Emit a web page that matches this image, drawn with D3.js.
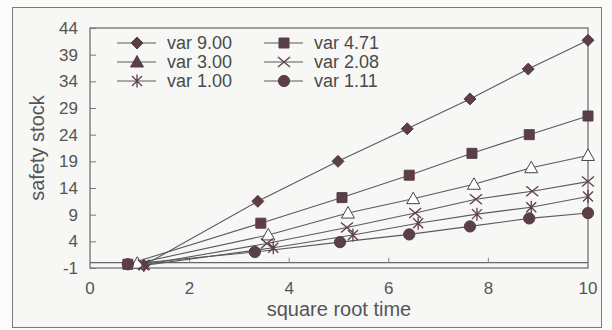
<!DOCTYPE html>
<html>
<head>
<meta charset="utf-8">
<script src="https://cdn.jsdelivr.net/npm/d3@7"></script>
<style>
  body { margin: 0; background: #fbfbfa; }
  svg { display: block; font-family: "Liberation Sans", Arial, sans-serif; }
</style>
</head>
<body>
<div class="chart_wrapper"></div>
<script>
// series: [square root time, safety stock]
const var900 = [[1.08, -0.5], [3.37, 11.5], [4.98, 19.0], [6.37, 25.1], [7.63, 30.7], [8.80, 36.3], [10.0, 41.7]]
const var471 = [[0.76, -0.3], [3.43, 7.4], [5.06, 12.2], [6.41, 16.4], [7.67, 20.5], [8.82, 24.0], [10.0, 27.5]]
const var300 = [[0.95, -0.1], [3.58, 5.2], [5.18, 9.3], [6.49, 12.0], [7.71, 14.7], [8.86, 17.8], [10.0, 20.1]]
const var208 = [[1.08, -0.4], [3.55, 3.6], [5.16, 6.6], [6.53, 9.3], [7.75, 11.9], [8.88, 13.4], [10.0, 15.2]]
const var100 = [[1.08, -0.5], [3.68, 2.8], [5.28, 5.2], [6.59, 7.4], [7.77, 9.1], [8.86, 10.4], [10.0, 12.4]]
const var111 = [[0.76, -0.3], [3.31, 2.0], [5.02, 3.85], [6.41, 5.3], [7.63, 6.8], [8.82, 8.3], [10.0, 9.3]]

const seriesNames = ['var 9.00', 'var 4.71', 'var 3.00', 'var 2.08', 'var 1.00', 'var 1.11']
const seriesData = [var900, var471, var300, var208, var100, var111]
const seriesMarks = ['diamond', 'square', 'triangle', 'x', 'star', 'circle']

const yTicks = [-1, 4, 9, 14, 19, 24, 29, 34, 39, 44]
const xTicks = [0, 2, 4, 6, 8, 10]

const width = 612
const height = 330
const margin = { top: 28, right: 24, bottom: 62, left: 90 }

const ink = '#5b3f47'
const lineCol = '#5a5a5a'
const textCol = '#555'

const svg = d3.select('.chart_wrapper')
    .append('svg')
    .attr('width', width)
    .attr('height', height)

// outer frame
svg.append('rect')
    .attr('x', 12.5).attr('y', 7.5)
    .attr('width', 589).attr('height', 320)
    .attr('fill', '#f7f7f5')
    .attr('stroke', '#7a7a7a')

const x = d3.scaleLinear().domain([0, 10]).range([margin.left, width - margin.right])
const y = d3.scaleLinear().domain([-1, 44]).range([height - margin.bottom, margin.top])

// plot box
svg.append('rect')
    .attr('x', x(0)).attr('y', y(44))
    .attr('width', x(10) - x(0)).attr('height', y(-1) - y(44))
    .attr('fill', 'none')
    .attr('stroke', '#666')
    .attr('stroke-width', 1.2)

// y axis, ticks pointing inward
const yAxis = svg.append('g')
    .attr('transform', `translate(${x(0)},0)`)
    .call(d3.axisRight(y).tickValues(yTicks).tickSize(6).tickFormat(d => d))
yAxis.select('.domain').remove()
yAxis.selectAll('line').attr('stroke', '#777')
yAxis.selectAll('text')
    .attr('x', -12)
    .attr('text-anchor', 'end')
    .attr('fill', textCol)
    .style('font-size', '17px')

// zero line with the x ticks on it
svg.append('line')
    .attr('x1', x(0)).attr('x2', x(10))
    .attr('y1', y(0)).attr('y2', y(0))
    .attr('stroke', '#666')
    .attr('stroke-width', 1.1)
svg.append('g')
    .selectAll('line')
    .data(xTicks.slice(1, -1))
    .join('line')
    .attr('x1', d => x(d)).attr('x2', d => x(d))
    .attr('y1', y(0)).attr('y2', y(0) - 5)
    .attr('stroke', '#888')

// x tick labels below the box
svg.append('g')
    .selectAll('text')
    .data(xTicks)
    .join('text')
    .attr('x', d => x(d))
    .attr('y', y(-1) + 26)
    .attr('text-anchor', 'middle')
    .attr('fill', textCol)
    .style('font-size', '17px')
    .text(d => d)

svg.append('text')
    .attr('x', (x(0) + x(10)) / 2)
    .attr('y', 316)
    .attr('text-anchor', 'middle')
    .attr('fill', textCol)
    .style('font-size', '20px')
    .text('square root time')

svg.append('text')
    .attr('transform', `translate(44,${(y(44) + y(-1)) / 2}) rotate(-90)`)
    .attr('text-anchor', 'middle')
    .attr('fill', textCol)
    .style('font-size', '20px')
    .text('safety stock')

// markers
const markPath = (kind) => {
    if (kind === 'diamond') return 'M0,-6L6,0L0,6L-6,0Z'
    if (kind === 'square') return d3.symbol(d3.symbolSquare, 100)()
    if (kind === 'circle') return d3.symbol(d3.symbolCircle, 100)()
    if (kind === 'triangle') return 'M0,-6.5L6.5,5L-6.5,5Z'
    if (kind === 'x') return 'M-6,-5L6,5M-6,5L6,-5'
    return 'M-5,-5L5,5M-5,5L5,-5M0,-6.5L0,6.5'
}
const drawMark = (g, kind, hollow) => {
    const open = kind === 'x' || kind === 'star'
    g.append('path')
        .attr('d', markPath(kind))
        .attr('fill', open ? 'none' : (hollow ? '#fff' : ink))
        .attr('stroke', open ? ink : (hollow ? '#444' : ink))
        .attr('stroke-width', open ? 1.3 : 1)
}

const line = d3.line().x(d => x(d[0])).y(d => y(d[1]))

seriesData.forEach((data, i) => {
    svg.append('path')
        .datum(data)
        .attr('d', line)
        .attr('fill', 'none')
        .attr('stroke', lineCol)
        .attr('stroke-width', 1.1)
})
seriesData.forEach((data, i) => {
    const g = svg.append('g')
    data.forEach(d => {
        const m = g.append('g').attr('transform', `translate(${x(d[0])},${y(d[1])})`)
        drawMark(m, seriesMarks[i], seriesMarks[i] === 'triangle')
    })
})

// legend, two columns
const legendCols = [117, 264]
const legendRows = [43, 62, 81]
seriesNames.forEach((name, i) => {
    const lx = legendCols[i % 2]
    const ly = legendRows[Math.floor(i / 2)]
    const g = svg.append('g').attr('transform', `translate(${lx},${ly})`)
    g.append('line')
        .attr('x1', 0).attr('x2', 39)
        .attr('stroke', lineCol)
        .attr('stroke-width', 1.1)
    const m = g.append('g').attr('transform', 'translate(20,0)')
    drawMark(m, seriesMarks[i], false)
    g.append('text')
        .attr('x', 50)
        .attr('dy', '0.35em')
        .attr('fill', '#4a4a4a')
        .style('font-size', '18px')
        .text(name)
})
</script>
</body>
</html>
